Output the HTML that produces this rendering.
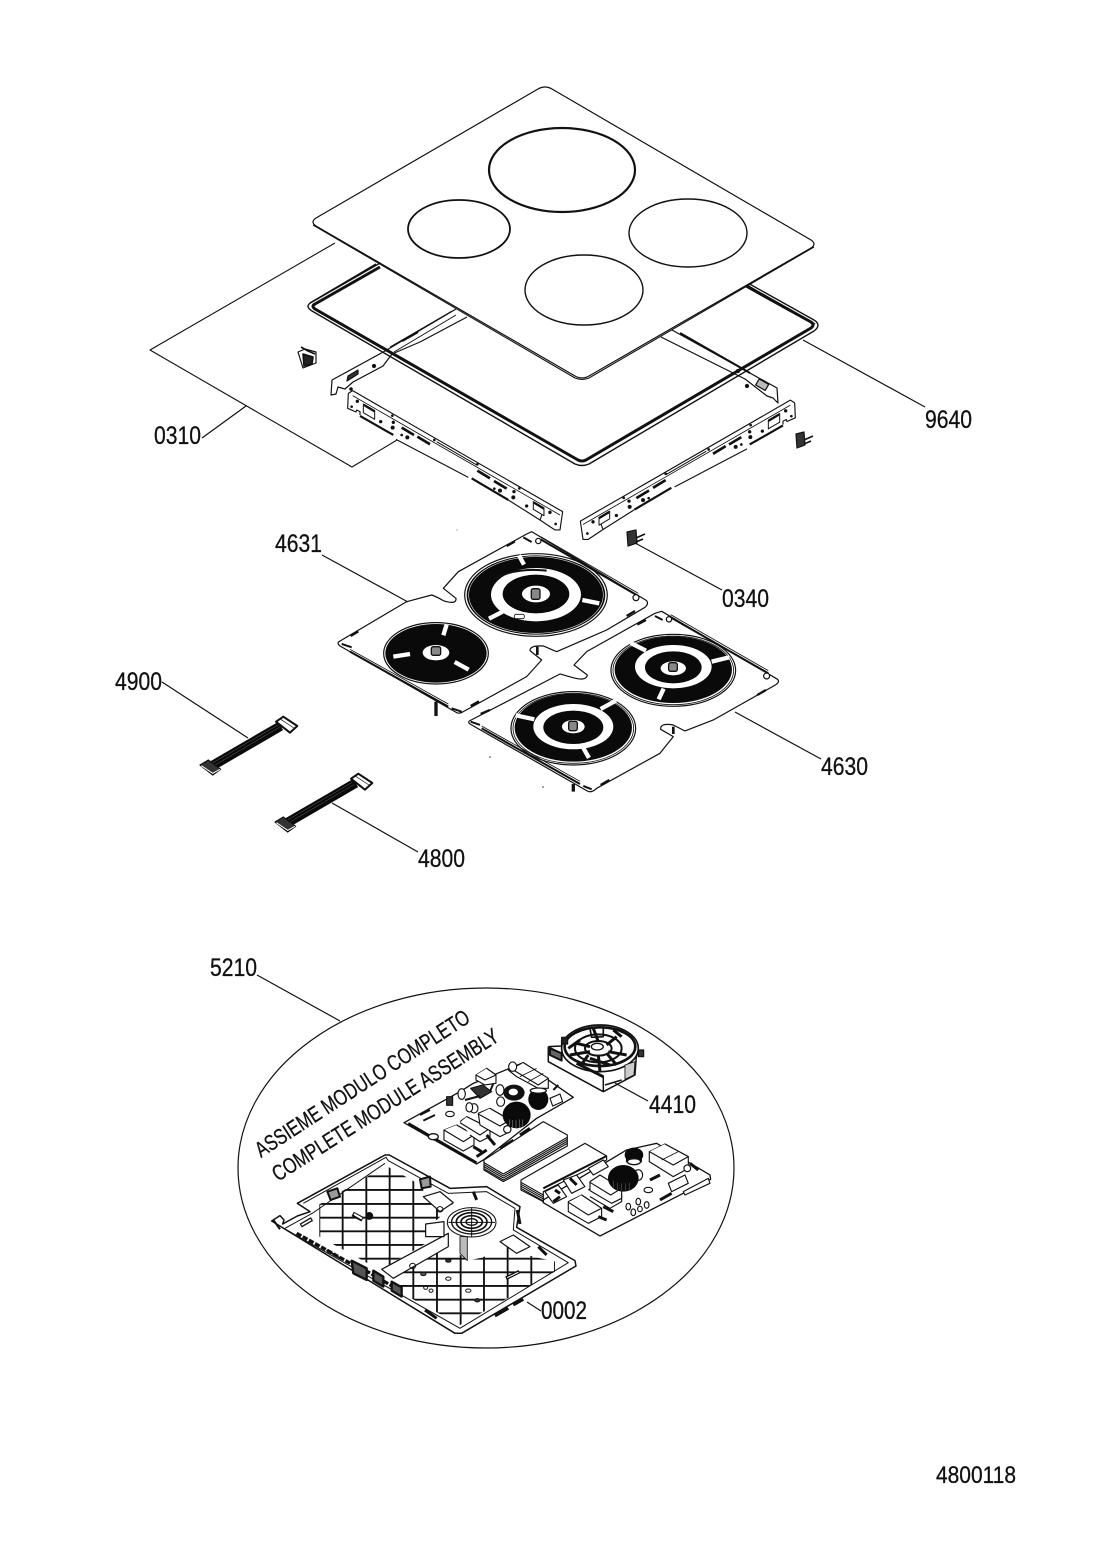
<!DOCTYPE html>
<html><head><meta charset="utf-8"><style>
html,body{margin:0;padding:0;background:#fff}
svg{display:block}
text{font-family:"Liberation Sans",sans-serif;fill:#111;stroke:#111;stroke-width:.3px}
.l{font-size:25px}
</style></head><body>
<svg width="1100" height="1557" viewBox="0 0 1100 1557" xmlns="http://www.w3.org/2000/svg" fill="none" stroke="#111" stroke-width="1.1" stroke-linejoin="round">
<!-- sheet 0310 -->
<path d="M335,243 L150,350 L352,467 L397,440"/>
<!-- back rails -->
<g stroke-width="1.2">
<path d="M456,309 L385,351 L332,380 L331,395 L336,394 L338,387 L345,389 L353,382 L383,366 L392,354 L420,342 L467,317"/>
<path d="M390,347 L452,311 M394,352 L456,315" stroke-width="1"/>
<path d="M402,341 L418,332" stroke-width="2.2"/>
<path d="M672,330 L777,388 L778,403 L773,398 L767,396 L745,379 L661,337"/>
<path d="M680,333 L750,373" stroke-width="2"/>
<path d="M347,381 L358,374 L358,370 L348,376 Z" fill="#333"/>
<rect x="757" y="381" width="11" height="7" transform="rotate(30 762 384)" fill="#bbb"/>
<circle cx="351" cy="389" r="1.2" fill="#111"/><circle cx="374" cy="366" r="1.5" fill="#111"/><circle cx="738" cy="371" r="1.5" fill="#111"/><circle cx="747" cy="386" r="1.5" fill="#111"/>
</g>
<!-- front rails -->
<g transform="translate(340,380) scale(.3333)" stroke-width="3.4">
<path d="M25,40 L38,32 L668,395 L660,450 L645,450 L600,420 L606,404 M25,40 L23,85 L48,96 L50,90 L60,95 L60,105 M168,178 L385,292 M505,360 L600,420"/>
<path d="M38,47 L660,405" stroke-width="2.5"/>
<path d="M290,185 L410,255" stroke-width="3"/>
<path d="M60,108 L160,165 M395,295 L505,360" stroke-width="6.5"/>
<path d="M185,143 L222,165 M232,170 L270,193 M412,272 L450,295 M462,303 L500,326" stroke-width="8"/>
<path d="M70,72 L104,92 L104,118 L70,98 Z M580,365 L612,384 L612,407 L580,388 Z" stroke-width="3"/>
<path d="M72,75 L104,94 M582,368 L612,386" stroke-width="7"/>
<g fill="#111" stroke="none"><circle cx="52" cy="64" r="5"/><circle cx="35" cy="80" r="4"/><circle cx="122" cy="125" r="5"/><circle cx="160" cy="127" r="5"/><circle cx="158" cy="143" r="6"/><circle cx="185" cy="165" r="4"/><circle cx="202" cy="172" r="6"/><circle cx="463" cy="326" r="4"/><circle cx="480" cy="332" r="6"/><circle cx="522" cy="335" r="5"/><circle cx="520" cy="352" r="6"/><circle cx="560" cy="378" r="5"/><circle cx="630" cy="397" r="5"/><circle cx="647" cy="432" r="4"/><circle cx="157" cy="107" r="4"/><circle cx="283" cy="180" r="4"/><circle cx="412" cy="253" r="4"/><circle cx="538" cy="325" r="4"/></g>
</g>
<g transform="translate(1143,9.5) scale(-1,1)"><g transform="translate(340,380) scale(.3333)" stroke-width="3.4">
<path d="M25,40 L38,32 L668,395 L660,450 L645,450 L600,420 L606,404 M25,40 L23,85 L48,96 L50,90 L60,95 L60,105 M168,178 L385,292 M505,360 L600,420"/>
<path d="M38,47 L660,405" stroke-width="2.5"/>
<path d="M290,185 L410,255" stroke-width="3"/>
<path d="M60,108 L160,165 M395,295 L505,360" stroke-width="6.5"/>
<path d="M185,143 L222,165 M232,170 L270,193 M412,272 L450,295 M462,303 L500,326" stroke-width="8"/>
<path d="M70,72 L104,92 L104,118 L70,98 Z M580,365 L612,384 L612,407 L580,388 Z" stroke-width="3"/>
<path d="M72,75 L104,94 M582,368 L612,386" stroke-width="7"/>
<g fill="#111" stroke="none"><circle cx="52" cy="64" r="5"/><circle cx="35" cy="80" r="4"/><circle cx="122" cy="125" r="5"/><circle cx="160" cy="127" r="5"/><circle cx="158" cy="143" r="6"/><circle cx="185" cy="165" r="4"/><circle cx="202" cy="172" r="6"/><circle cx="463" cy="326" r="4"/><circle cx="480" cy="332" r="6"/><circle cx="522" cy="335" r="5"/><circle cx="520" cy="352" r="6"/><circle cx="560" cy="378" r="5"/><circle cx="630" cy="397" r="5"/><circle cx="647" cy="432" r="4"/><circle cx="157" cy="107" r="4"/><circle cx="283" cy="180" r="4"/><circle cx="412" cy="253" r="4"/><circle cx="538" cy="325" r="4"/></g>
</g></g>
<!-- gasket frame -->
<path d="M382,262 L312,302 Q304,306 312,311 L575,464 Q582,467 589,464 L814,331 Q822,325 814,320 L746,282" stroke-width="1.4"/>
<path d="M380,267 L315,304 Q311,306 315,309 L578,460 Q582,462 586,460 L811,328 Q815,325 811,322 L746,286" stroke-width="3"/>
<path d="M376,264 L310,303 M745,284 L815,324" stroke-width="1.4"/>
<!-- glass -->
<path d="M538,89 Q545,85 552,89 L811,240 Q817,244 811,248 L589,376 Q582,380 575,376 L316,226 Q310,222 316,218 Z" fill="#fff" stroke-width="1.2"/>
<path d="M313,225 L575,378 Q582,381 589,378 L814,247" stroke-width="1.1"/>
<ellipse cx="562" cy="170" rx="73" ry="42" stroke-width="2.2"/>
<ellipse cx="459" cy="229" rx="51" ry="29" stroke-width="1.8"/>
<ellipse cx="688" cy="233" rx="59" ry="34" stroke-width="1.4"/>
<ellipse cx="584" cy="290" rx="59" ry="35" stroke-width="1.4"/>
<!-- clips -->
<g stroke-width="1.2">
<path d="M298,352 L305,349 L316,352 L316,363 L303,368 Z" fill="#fff"/><path d="M301,347 L308,351 L315,354 M303,354 L313,357 L312,364 L304,366 Z" fill="#222" stroke-width="1.6"/>
<path d="M796,434 L804,432 L805,445 L797,448 Z" fill="#333"/><path d="M804,440 L813,436 M804,444 L811,441" stroke-width="1.6"/>
<path d="M627,532 L636,530 L637,543 L628,546 Z" fill="#333"/><path d="M636,538 L645,534 M636,542 L643,539" stroke-width="1.6"/>
</g>
<!-- induction plates -->
<g transform="translate(330,530) scale(.3333)" stroke-width="3.6">
<path d="M27,335 L230,215 L305,195 Q320,200 340,212 Q380,225 378,205 L340,175 L385,125 L590,12 L605,5 L950,212 Q957,222 945,232 L830,300 L680,365 L640,348 Q600,345 600,362 L635,390 L590,440 L400,545 Q390,552 380,548 L30,348 Q20,340 27,335 Z"/>
<path d="M60,365 L355,530 M632,28 L925,198" stroke-width="6"/><path d="M60,358 L355,522 M632,20 L925,190" stroke-width="2.5"/>
<ellipse cx="618" cy="195" rx="214" ry="124"/>
<ellipse cx="618" cy="195" rx="208" ry="119" fill="#0a0a0a" stroke="none"/>
<ellipse cx="618" cy="195" rx="202" ry="115" stroke="#fff" stroke-width="1.6"/>
<ellipse cx="618" cy="194" rx="135" ry="80" fill="#fff" stroke="none"/>
<ellipse cx="618" cy="192" rx="100" ry="58" fill="#0a0a0a" stroke="none"/>
<ellipse cx="618" cy="192" rx="42" ry="25" fill="#fff" stroke="none"/>
<path d="M495,145 Q560,112 650,122" stroke="#111" stroke-width="6"/>
<path d="M567,76 L582,104 M757,210 L808,220 M477,266 L518,245" stroke="#fff" stroke-width="13"/>
<rect x="553" y="253" width="30" height="13" rx="5" fill="#fff" stroke-width="2.5"/>
<rect x="604" y="176" width="26" height="32" rx="6" fill="#888" stroke-width="4"/>
<ellipse cx="318" cy="370" rx="157" ry="92"/>
<ellipse cx="318" cy="370" rx="152" ry="88" fill="#0a0a0a" stroke="none"/>
<ellipse cx="318" cy="368" rx="40" ry="23" fill="#fff" stroke="none"/>
<path d="M350,284 L340,316 M190,380 L240,372 M374,396 L416,419" stroke="#fff" stroke-width="13"/>
<rect x="304" y="350" width="28" height="26" rx="6" fill="#888" stroke-width="4"/>
<path d="M62,318 L85,304 M530,48 L555,34 M890,258 L915,243 M422,528 L447,514" stroke-width="7"/>
<path d="M580,22 L605,36 M35,342 L65,352 M365,535 L395,545" stroke-width="6"/>
<circle cx="625" cy="33" r="8" fill="#fff"/><circle cx="918" cy="203" r="9" fill="#fff"/>
<path d="M318,515 L318,558" stroke-width="10"/><path d="M622,350 L622,375" stroke-width="8"/>

<path d="M420,572 L690,432 L725,442 Q770,455 772,435 L732,405 L770,365 L975,250 L995,244 L1343,448 Q1350,456 1338,464 L1150,570 L1065,603 L1030,585 Q990,578 992,598 L1030,620 L990,670 L800,775 Q785,790 772,783 L420,582 Q412,576 420,572 Z"/>
<path d="M455,595 L750,762 M1022,262 L1315,430" stroke-width="6"/><path d="M455,588 L750,754 M1022,254 L1315,422" stroke-width="2.5"/>
<ellipse cx="1030" cy="421" rx="187" ry="108"/>
<ellipse cx="1030" cy="421" rx="181" ry="103" stroke-width="2.5"/>
<ellipse cx="1030" cy="419" rx="176" ry="100" fill="#0a0a0a" stroke="none"/>
<ellipse cx="1030" cy="410" rx="115" ry="65" fill="#fff" stroke="none"/>
<ellipse cx="1030" cy="412" rx="85" ry="48" fill="#0a0a0a" stroke="none"/>
<ellipse cx="1030" cy="415" rx="38" ry="21" fill="#fff" stroke="none"/>
<path d="M902,339 L948,362 M1145,395 L1198,382 M986,508 L1001,476" stroke="#fff" stroke-width="13"/>
<rect x="1016" y="398" width="26" height="26" rx="6" fill="#888" stroke-width="4"/>
<ellipse cx="730" cy="595" rx="187" ry="110"/>
<ellipse cx="730" cy="595" rx="181" ry="105" stroke-width="2.5"/>
<ellipse cx="730" cy="593" rx="176" ry="102" fill="#0a0a0a" stroke="none"/>
<ellipse cx="730" cy="590" rx="120" ry="68" fill="#fff" stroke="none"/>
<ellipse cx="730" cy="592" rx="90" ry="50" fill="#0a0a0a" stroke="none"/>
<ellipse cx="730" cy="590" rx="34" ry="20" fill="#fff" stroke="none"/>
<path d="M812,537 L858,512 M557,556 L613,568 M758,650 L777,684" stroke="#fff" stroke-width="13"/>
<rect x="716" y="574" width="26" height="28" rx="6" fill="#888" stroke-width="4"/>
<path d="M452,552 L480,540 M922,284 L948,270 M1282,495 L1308,480 M812,765 L838,750" stroke-width="7"/>
<path d="M422,575 L450,585 M975,258 L998,270 M760,768 L785,778" stroke-width="6"/>
<circle cx="1017" cy="268" r="8" fill="#fff"/><circle cx="1310" cy="438" r="9" fill="#fff"/>
<path d="M730,762 L730,785" stroke-width="10"/><path d="M1030,590 L1030,612" stroke-width="8"/>
</g>
<!-- specks -->
<circle cx="490" cy="757" r=".8" fill="#333" stroke="none"/><circle cx="543" cy="787" r=".8" fill="#333" stroke="none"/><circle cx="457" cy="530" r=".6" fill="#777" stroke="none"/>
<!-- ribbon cables -->
<g transform="translate(190,710) scale(.3333)" stroke-width="3.5">
<path d="M62,170 L272,48" stroke-width="29" stroke="#0a0a0a"/><path d="M70,168 L268,52 M66,160 L262,46" stroke="#777" stroke-width="1.2"/>
<path d="M30,165 L55,150 L92,178 L68,195 Z" fill="#333"/><path d="M34,167 L68,190 L90,178" stroke="#fff" stroke-width="3"/>
<path d="M258,35 L280,20 L322,48 L300,68 Z" fill="#fff" stroke-width="6"/><path d="M272,28 L312,54" stroke="#111" stroke-width="2"/>
</g>
<g transform="translate(265,767) scale(.3333)" stroke-width="3.5">
<path d="M62,170 L272,48" stroke-width="29" stroke="#0a0a0a"/><path d="M70,168 L268,52 M66,160 L262,46" stroke="#777" stroke-width="1.2"/>
<path d="M30,165 L55,150 L92,178 L68,195 Z" fill="#333"/><path d="M34,167 L68,190 L90,178" stroke="#fff" stroke-width="3"/>
<path d="M258,35 L280,20 L322,48 L300,68 Z" fill="#fff" stroke-width="6"/><path d="M272,28 L312,54" stroke="#111" stroke-width="2"/>
</g>
<!-- module ellipse -->
<ellipse cx="486" cy="1168" rx="248" ry="180" stroke-width="1.2"/>
<!-- module base -->
<g transform="translate(260,1020) scale(.3333)" stroke-width="3.6">
<defs>
<clipPath id="g1"><path d="M178,553 L378,437 L490,500 L490,530 L580,555 L530,600 L497,612 L497,650 L530,652 L360,750 L178,650 Z"/></clipPath>
<clipPath id="g2"><path d="M400,772 L565,680 L625,722 L670,712 L735,670 L800,705 L885,725 L885,755 L600,915 L430,822 Z"/></clipPath>
</defs>
<path d="M35,603 L60,587 L72,600 L68,612 L112,588 L150,575 L112,550 L375,405 L388,405 L570,505 L680,500 L780,560 L770,622 L945,722 L948,738 L605,940 L585,940 Z" fill="#fff" stroke-width="4.5"/>
<path d="M75,625 L160,578 M130,550 L378,412 L385,422 L565,520 L680,515 L765,565 L760,630 L925,728 L600,925 L80,630" stroke-width="3"/>
<path d="M160,578 L375,430" stroke-width="3"/>
<g stroke-width="5.6">
<g clip-path="url(#g1)"><path d="M178,400V950M248,400V950M319,400V950M389,400V950M460,400V950M531,400V950M0,469H1000M0,510H1000M0,552H1000M0,593H1000M0,634H1000M0,675H1000M0,716H1000"/></g>
<g clip-path="url(#g2)"><path d="M460,600V950M531,600V950M602,600V950M672,600V950M743,600V950M814,600V950M885,600V950M0,716H1000M0,757H1000M0,798H1000M0,839H1000M0,880H1000M0,921H1000"/></g>
</g>
<path d="M365,748 L565,640 L565,680 L400,775 Z" fill="#fff"/>
<path d="M497,612 L552,605 L552,650 L497,650 Z" fill="#fff"/>
<path d="M490,530 L540,515 L580,548 L540,575 Z" fill="#fff"/>
<path d="M720,665 L760,645 L810,680 L770,700 Z" fill="#fff"/>
<path d="M600,650 L622,650 L622,722 L600,700 Z" fill="#bbb" stroke-width="2.5"/>
<g stroke-width="3"><ellipse cx="635" cy="607" rx="73" ry="44"/><ellipse cx="635" cy="606" rx="60" ry="36" stroke-width="4"/><ellipse cx="635" cy="606" rx="46" ry="28" stroke-width="5"/><ellipse cx="635" cy="606" rx="32" ry="19" stroke-width="5"/><ellipse cx="635" cy="606" rx="17" ry="10" stroke-width="4"/><path d="M635,562V650M565,607H705"/></g>
<path d="M278,582 L308,598" stroke-width="15"/><path d="M282,582 L306,596" stroke="#fff" stroke-width="6"/><circle cx="328" cy="588" r="10" fill="#111"/>
<path d="M122,617 L156,597" stroke-width="13"/><path d="M125,615 L153,599" stroke="#fff" stroke-width="5"/>
<path d="M738,775 L778,755" stroke-width="11"/><path d="M742,773 L775,757" stroke="#fff" stroke-width="3"/>
<path d="M202,515 L232,505 L240,530 L212,540 Z M480,478 L510,470 L512,500 L485,505 Z" stroke-width="6" fill="#999"/>
<path d="M110,640 L280,735 M280,730 L425,815" stroke-width="10" stroke-dasharray="16 5"/>
<path d="M275,722 L320,745 L320,780 L280,760 Z M340,752 L370,770 L370,800 L340,782 Z M395,785 L425,802 L425,830 L395,812 Z" stroke-width="7" fill="#555"/>
<path d="M495,870 L530,895 M705,888 L745,865 M760,855 L790,838" stroke-width="9"/>
<path d="M640,515 L650,540 M772,570 L780,612 M835,680 L860,705" stroke-width="9"/>
<path d="M40,600 L60,628 M200,690 L240,715" stroke-width="6"/>
<g stroke-width="3"><ellipse cx="565" cy="776" rx="8" ry="5"/><ellipse cx="625" cy="812" rx="8" ry="5"/><ellipse cx="497" cy="803" rx="6" ry="5"/><ellipse cx="513" cy="812" rx="6" ry="5"/><ellipse cx="490" cy="762" rx="8" ry="5" fill="#555"/><ellipse cx="652" cy="841" rx="8" ry="5" fill="#333"/><ellipse cx="565" cy="722" rx="8" ry="5" fill="#333"/><ellipse cx="458" cy="738" rx="9" ry="8"/><ellipse cx="540" cy="568" rx="9" ry="8"/></g>

<!-- board 1 -->
<path d="M432,308 L600,215 L640,190 L790,128 L940,232 L830,295 L670,420 L650,432 Z" fill="#fff" stroke-width="4"/>
<path d="M445,310 L650,428" stroke-width="7"/>
<path d="M850,305 L922,345 L922,378 L730,485 L672,450 L672,420 Z" fill="#fff" stroke-width="3.5"/>
<path d="M672,428 L730,462 L922,352 M672,434 L730,468 L922,358 M672,440 L730,474 L922,364 M672,446 L730,480 L922,370" stroke-width="3.4"/>
<g fill="#fff" stroke-width="3.4">
<path d="M552,330 L590,315 L642,345 L642,375 L610,393 L552,360 Z"/><path d="M590,315 L642,345 L610,365 L552,330"/>
<path d="M600,305 L620,290 L690,325 L690,350 L660,365 L630,345"/><path d="M620,290 L690,325 L660,345 L600,308"/>
<path d="M655,280 L690,265 L750,300 L750,335 L720,350 L660,315 Z"/><path d="M690,265 L750,300 L720,318 L655,282"/>
<path d="M648,165 L680,145 L708,165 L708,190 L675,195 L648,180 Z"/><path d="M680,145 L708,165 L675,180 L648,165"/>
<path d="M745,150 L790,128 L845,165 L865,175 L865,205 L835,205 L770,170 Z"/><path d="M790,128 L865,175 L835,195 L760,150"/><path d="M780,170 L830,145 M805,185 L850,160" stroke-width="2.5"/>
<ellipse cx="605" cy="222" rx="11" ry="16"/><ellipse cx="642" cy="265" rx="12" ry="14"/><ellipse cx="628" cy="262" rx="10" ry="14"/><ellipse cx="720" cy="210" rx="12" ry="16"/><ellipse cx="722" cy="245" rx="12" ry="14"/><ellipse cx="758" cy="140" rx="12" ry="14"/>
<path d="M632,205 L668,195 L695,215 L660,235 Z" fill="#333"/>
<path d="M870,235 L900,222 L908,245 L878,258 Z"/><rect x="560" y="230" width="18" height="26" fill="#333"/>
<ellipse cx="570" cy="282" rx="13" ry="8"/>
</g>
<path d="M615,240 L660,228 M690,215 L700,190 M880,210 L895,195" stroke-width="6"/>
<ellipse cx="762" cy="218" rx="32" ry="24" fill="#111" stroke="none"/><ellipse cx="760" cy="216" rx="14" ry="10" fill="#fff" stroke="none"/>
<ellipse cx="835" cy="238" rx="30" ry="32" fill="#0a0a0a" stroke="none"/><ellipse cx="835" cy="212" rx="24" ry="8" fill="#fff" stroke-width="4"/>
<ellipse cx="770" cy="285" rx="42" ry="40" fill="#0a0a0a" stroke="none"/><path d="M748,298V322M758,300V324M768,300V325M778,298V324M788,298V320" stroke="#777" stroke-width="2"/>
<path d="M480,285 L510,270 M490,302 L525,285" stroke-width="6"/><ellipse cx="520" cy="350" rx="15" ry="9" fill="#fff" stroke-width="4"/>
<path d="M640,380 L665,395 M680,345 L705,375 M650,410 L680,390" stroke-width="9"/><circle cx="742" cy="328" r="11" fill="#fff"/>
<path d="M720,385 L760,360" stroke-width="7"/><path d="M780,345 L810,325" stroke-width="9"/>

<!-- board 2 -->
<path d="M850,540 L1100,390 L1190,370 L1350,465 L1352,478 L1020,648 L850,548 Z" fill="#fff" stroke-width="4"/>
<path d="M783,480 L975,370 L1040,408 L1040,420 L850,515 L850,545 L783,510 Z" fill="#fff" stroke-width="3.5"/>
<path d="M783,487 L850,525 M783,493 L850,531 M783,499 L850,537 M783,505 L850,543" stroke-width="3.4"/>
<path d="M850,505 L1040,408" stroke-width="6"/>
<g fill="#fff" stroke-width="3.4">
<path d="M925,545 L965,525 L1025,565 L1025,590 L985,610 L925,575 Z"/><path d="M965,525 L1025,565 L985,585 L925,547"/>
<path d="M985,510 L1020,490 L1085,525 L1085,545 L1050,565 L990,530"/><path d="M1020,465 L1085,505 L1085,535 L1055,550 L990,512 L990,485 Z"/><path d="M990,487 L1052,525 L1085,505"/>
<path d="M1168,395 L1215,372 L1285,410 L1285,445 L1240,470 L1168,425 Z"/><path d="M1215,372 L1285,410 L1240,435 L1168,395"/><path d="M1205,420 L1255,395" stroke-width="2.5"/>
<path d="M1225,490 L1275,465 L1285,490 L1235,515 Z"/><path d="M1270,515 L1345,475 L1350,490 L1275,525 Z"/>
<path d="M855,515 L895,495 L920,530 L880,550 Z"/><path d="M910,480 L950,465 L975,500 L935,520 Z"/><path d="M985,445 L1030,420 L1045,440 L1000,465 Z"/>
<circle cx="1282" cy="445" r="10"/><ellipse cx="1165" cy="510" rx="13" ry="8"/>
<ellipse cx="1105" cy="560" rx="7" ry="10"/><ellipse cx="1135" cy="545" rx="7" ry="10"/><ellipse cx="1160" cy="555" rx="7" ry="10"/><ellipse cx="1120" cy="577" rx="7" ry="10"/><ellipse cx="1140" cy="567" rx="7" ry="8"/>
<ellipse cx="1135" cy="465" rx="13" ry="16"/>
</g>
<ellipse cx="1122" cy="405" rx="28" ry="22" fill="#0a0a0a" stroke="none"/><rect x="1098" y="405" width="48" height="22" fill="#0a0a0a" stroke="none"/><ellipse cx="1122" cy="425" rx="20" ry="9" fill="#fff" stroke-width="4"/>
<ellipse cx="1090" cy="475" rx="46" ry="40" fill="#0a0a0a" stroke="none"/><path d="M1060,482V505M1072,488V510M1084,490V512M1096,490V512M1108,488V510" stroke="#555" stroke-width="2"/>
<path d="M885,510 L900,520 M930,475 L950,495 M880,545 L900,530 M1015,590 L1040,600 M1030,560 L1060,575 M1170,480 L1200,465 M1200,540 L1235,520 M1290,430 L1315,450" stroke-width="9"/>

<!-- fan -->
<path d="M865,80 L905,78 L905,60 M865,80 L865,125 L1030,215 L1125,165 L1130,95 M1030,215 L1030,170 L865,80" stroke-width="4.5" fill="#fff"/>
<ellipse cx="1020" cy="85" rx="115" ry="70" fill="#fff" stroke-width="5"/>
<ellipse cx="1020" cy="80" rx="106" ry="58" stroke-width="8"/>
<ellipse cx="1015" cy="85" rx="40" ry="22" stroke-width="6"/><ellipse cx="1012" cy="80" rx="18" ry="10" stroke-width="4"/>
<ellipse cx="1015" cy="85" rx="70" ry="42" stroke-width="6"/>
<path d="M930,105 L990,95 M950,70 L990,80 M1000,25 L1015,65 M1070,50 L1040,75 M1045,95 L1100,105 M1015,105 L1020,155 M985,105 L960,140 M1040,100 L1070,135 M950,130 L1030,170 M990,115 L1050,135 M925,85 L960,60 M1060,30 L1085,50" stroke-width="9"/>
<path d="M870,85 L905,100 L905,122 L870,105 Z" stroke-width="6" fill="#666"/><path d="M990,25 L1030,22 L1030,50 L995,52 Z" stroke-width="5"/>
<rect x="1135" y="90" width="16" height="20" fill="#333"/><rect x="905" y="52" width="18" height="20" fill="#222"/>
<path d="M1095,135 L1125,125 L1122,165 L1095,178 Z" stroke-width="2.5" fill="#ccc"/>
<path d="M1035,195 L1085,180" stroke-width="5"/>
</g>
<!-- leaders -->
<path d="M202,438 L246,406 M925,407 L803,340 M322,555 L408,602 M722,590 L635,543 M162,682 L248,738 M821,759 L735,712 M418,852 L332,803 M257,975 L340,1021 M648,1101 L615,1083 M541,1311 L527,1302" stroke-width="1.2"/>
<!-- labels -->
<g stroke="none">
<text class="l" x="154" y="444" textLength="47" lengthAdjust="spacingAndGlyphs">0310</text>
<text class="l" x="925" y="428" textLength="47" lengthAdjust="spacingAndGlyphs">9640</text>
<text class="l" x="275" y="552" textLength="47" lengthAdjust="spacingAndGlyphs">4631</text>
<text class="l" x="722" y="607" textLength="47" lengthAdjust="spacingAndGlyphs">0340</text>
<text class="l" x="115" y="690" textLength="47" lengthAdjust="spacingAndGlyphs">4900</text>
<text class="l" x="821" y="775" textLength="47" lengthAdjust="spacingAndGlyphs">4630</text>
<text class="l" x="418" y="867" textLength="47" lengthAdjust="spacingAndGlyphs">4800</text>
<text class="l" x="210" y="976" textLength="47" lengthAdjust="spacingAndGlyphs">5210</text>
<text class="l" x="649" y="1113" textLength="47" lengthAdjust="spacingAndGlyphs">4410</text>
<text class="l" x="541" y="1319" textLength="46" lengthAdjust="spacingAndGlyphs">0002</text>
<text x="936" y="1483" font-size="24" textLength="80" lengthAdjust="spacingAndGlyphs">4800118</text>
<text transform="translate(261,1158) rotate(-33)" font-size="22" textLength="251" lengthAdjust="spacingAndGlyphs">ASSIEME MODULO COMPLETO</text>
<text transform="translate(278,1182) rotate(-32.5)" font-size="22" textLength="264" lengthAdjust="spacingAndGlyphs">COMPLETE MODULE ASSEMBLY</text>
</g>
</svg>
</body></html>
